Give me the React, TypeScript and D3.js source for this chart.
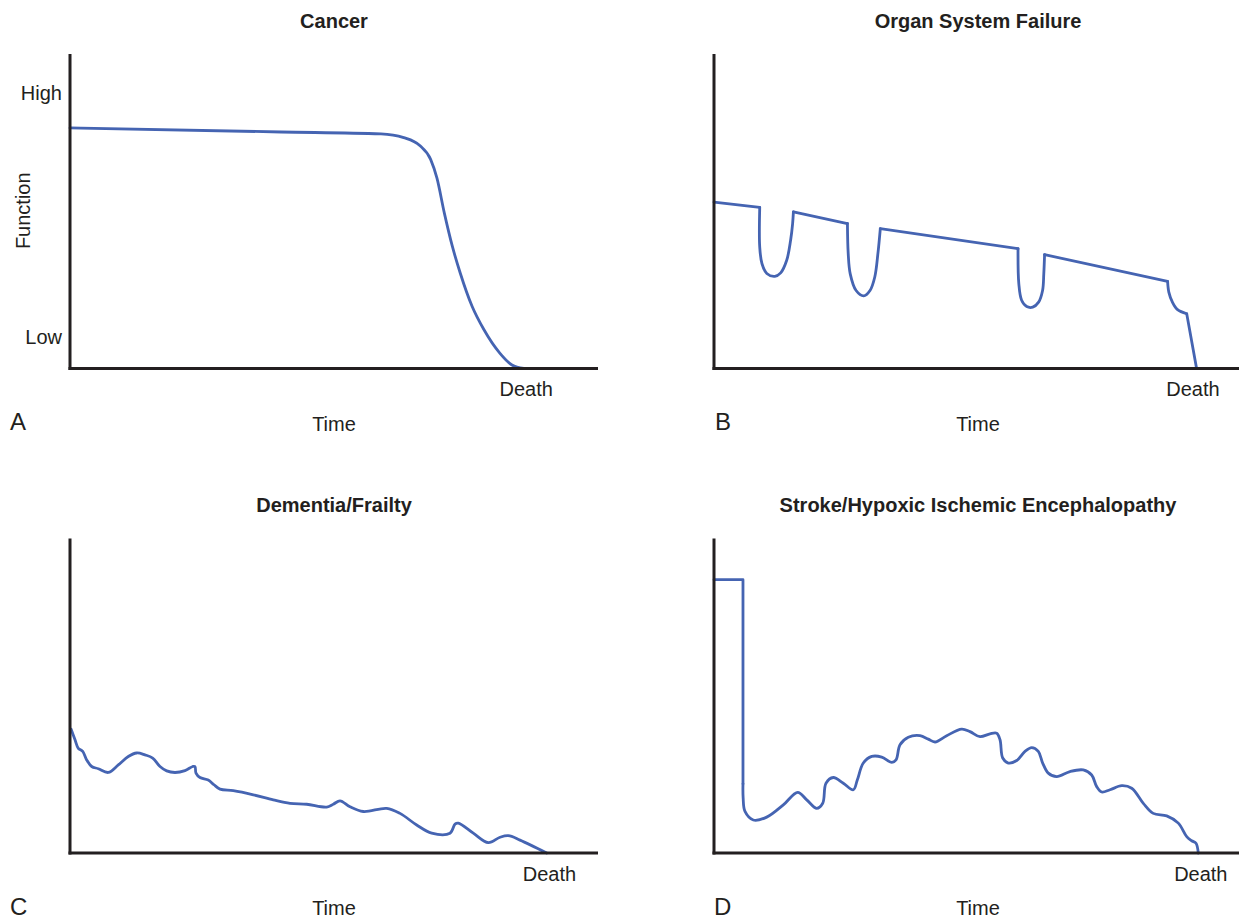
import React from 'react';
import * as d3 from 'd3';

type P = [number, number];

// ---------- Text ----------
const panelLetters = ['A', 'B', 'C', 'D'];
const panelTitles = ['Cancer', 'Organ System Failure', 'Dementia/Frailty', 'Stroke/Hypoxic Ischemic Encephalopathy'];
const yAxisLabel = 'Function';
const yTickLabels = ['High', 'Low'];
const yTickValues = [87.7, 10.1];
const xAxisLabel = 'Time';
const endLabel = 'Death';
const deathTimes = [86.4, 90.7, 90.8, 92.2];

// ---------- Data (time 0-100, function 0-100) ----------
const cancerCurve: P[] = [
  [0, 76.5], [40, 75.2], [58.9, 74.6], [63.2, 73.4], [66.3, 70.8], [68.3, 66.5],
  [69.5, 60.5], [70.9, 49.4], [72.42, 38.8], [73.92, 30.3],
  [76.17, 19.7], [78.41, 12.3], [81.44, 4.8], [83.71, 1.1], [85.95, 0],
];

const organTrend1: P[] = [[0, 52.9], [8.66, 51.2]];
const organDip1: P[] = [
  [8.66, 51.2], [8.66, 38.6], [9.09, 33.3], [10.0, 30.2], [11.52, 29.3], [12.63, 30.4],
  [13.77, 34.4], [14.51, 40.8], [14.89, 46.1], [15.04, 49.8],
];
const organTrend2: P[] = [[15.04, 49.8], [25.27, 46.1]];
const organDip2: P[] = [
  [25.27, 46.1], [25.42, 36.5], [25.8, 30.1], [26.91, 24.8], [28.35, 23.1], [29.55, 24.8],
  [30.45, 29.1], [31.04, 36.5], [31.5, 44.5],
];
const organTrend3: P[] = [[31.5, 44.5], [57.58, 38.1]];
const organDip3: P[] = [
  [57.58, 38.1], [57.73, 27.0], [58.26, 21.7], [59.22, 19.7], [60.36, 19.5], [61.48, 21.1],
  [62.23, 24.8], [62.46, 30.1], [62.61, 36.2],
];
const organTrend4: P[] = [[62.61, 36.2], [85.91, 27.7]];
const organDecline: P[] = [[85.91, 27.7], [86.14, 24.3], [86.82, 21.1], [87.79, 18.7], [89.53, 17.4]];
const organFinal: P[] = [[89.53, 17.4], [91.4, 0]];

const dementiaCurve: P[] = [
  [0.2, 39.4], [0.95, 36.0], [1.57, 33.3], [2.41, 32.3], [3.16, 29.6], [4.11, 27.5],
  [5.36, 26.8], [7.25, 25.6], [9.15, 28.0], [11.04, 30.7], [12.63, 31.8], [14.2, 31.2],
  [15.66, 30.2], [17.05, 27.5], [18.31, 26.1], [19.89, 25.6], [21.78, 26.2], [23.24, 27.5],
  [23.67, 27.5], [23.86, 25.4], [24.62, 24.0], [26.19, 23.2], [27.27, 21.7], [28.41, 20.3],
  [30.93, 19.8], [34.72, 18.5], [38.5, 16.9], [41.67, 15.8], [44.83, 15.5], [48.62, 14.6],
  [49.87, 15.5], [51.14, 16.6], [53.03, 14.7], [55.55, 13.2], [59.98, 14.2], [62.5, 12.6],
  [65.66, 8.9], [68.5, 6.3], [71.97, 6.3], [72.92, 9.2], [73.54, 9.5], [76.38, 6.3],
  [79.22, 3.3], [81.44, 5.0], [83.01, 5.5], [85.23, 4.1], [90.28, 0],
];

const strokeStep: P[] = [[0, 86.9], [5.49, 86.9], [5.49, 22]];
const strokeCurve: P[] = [
  [5.49, 22], [5.52, 17.5], [5.87, 13.2], [7.44, 10.5], [9.98, 11.4], [13.13, 15.3],
  [15.85, 19.3], [17.56, 16.9], [19.45, 14.2], [20.59, 15.8], [21.21, 22.2], [22.59, 24.0],
  [24.49, 22.2], [26.38, 20.1], [27.14, 23.2], [28.28, 28.6], [29.87, 30.7], [31.76, 30.5],
  [33.66, 28.8], [34.47, 29.6], [35.23, 34.4], [36.8, 36.8], [39.02, 37.3], [40.59, 36.2],
  [41.86, 35.3], [44.07, 37.3], [46.91, 39.4], [48.48, 38.6], [50.38, 37.0], [52.27, 37.9],
  [53.54, 38.1], [54.17, 36.0], [54.68, 30.2], [55.74, 28.6], [57.33, 29.4], [58.9, 32.3],
  [60.17, 33.5], [61.42, 32.3], [62.25, 28.6], [63.31, 25.4], [64.91, 24.3], [67.42, 25.9],
  [69.94, 26.4], [71.53, 24.8], [72.48, 21.1], [73.43, 19.4], [75.0, 20.1], [77.22, 21.4],
  [79.11, 20.6], [81.31, 15.8], [83.2, 12.6], [85.74, 11.8], [87.94, 9.5], [89.53, 5.2],
  [90.47, 3.9], [91.29, 3.1], [91.72, 0],
];

type Seg = { kind: 'smooth' | 'monotone' | 'linear'; pts: P[] };
const panelSeries: Seg[][] = [
  [{ kind: 'monotone', pts: cancerCurve }],
  [
    { kind: 'linear', pts: organTrend1 }, { kind: 'smooth', pts: organDip1 },
    { kind: 'linear', pts: organTrend2 }, { kind: 'smooth', pts: organDip2 },
    { kind: 'linear', pts: organTrend3 }, { kind: 'smooth', pts: organDip3 },
    { kind: 'linear', pts: organTrend4 }, { kind: 'smooth', pts: organDecline },
    { kind: 'linear', pts: organFinal },
  ],
  [{ kind: 'smooth', pts: dementiaCurve }],
  [{ kind: 'linear', pts: strokeStep }, { kind: 'smooth', pts: strokeCurve }],
];

// ---------- Layout ----------
const layout = [
  { x0: 70, bottom: 368.5, axisEnd: 598, letterX: 10 },
  { x0: 714, bottom: 368.5, axisEnd: 1242, letterX: 715 },
  { x0: 70, bottom: 853, axisEnd: 598, letterX: 10 },
  { x0: 714, bottom: 853, axisEnd: 1242, letterX: 714 },
];
const plotW = 528;
const plotH = 314.5;
const FONT = '"Liberation Sans", Arial, Helvetica, sans-serif';
const INK = '#231f20';
const BLUE = '#4564b2';

const curves = {
  smooth: d3.curveCatmullRom.alpha(0.5),
  monotone: d3.curveMonotoneX,
  linear: d3.curveLinear,
};

function Panel({ i }: { i: number }) {
  const L = layout[i];
  const x = d3.scaleLinear().domain([0, 100]).range([L.x0, L.x0 + plotW]);
  const y = d3.scaleLinear().domain([0, 100]).range([L.bottom, L.bottom - plotH]);
  const top = y(100);
  const cx = L.x0 + plotW / 2;
  return (
    <g>
      <text x={cx} y={top - 26.5} textAnchor="middle" fontFamily={FONT} fontWeight="bold" fontSize={20} fill={INK}>
        {panelTitles[i]}
      </text>
      {panelSeries[i].map((s, k) => {
        const gen = d3.line<P>().x(d => x(d[0])).y(d => y(d[1])).curve(curves[s.kind]);
        return (
          <path key={k} d={gen(s.pts) || ''} fill="none" stroke={BLUE}
            strokeWidth={2.8} strokeLinejoin="round" strokeLinecap="round" />
        );
      })}
      <line x1={L.x0} x2={L.x0} y1={top} y2={L.bottom + 1.5} stroke={INK} strokeWidth={3} />
      <line x1={L.x0 - 1.5} x2={L.axisEnd} y1={L.bottom} y2={L.bottom} stroke={INK} strokeWidth={3} />
      <text x={x(deathTimes[i])} y={L.bottom + 27.5} textAnchor="middle" fontFamily={FONT} fontSize={20} fill={INK}>
        {endLabel}
      </text>
      <text x={cx} y={L.bottom + 62} textAnchor="middle" fontFamily={FONT} fontSize={20} fill={INK}>
        {xAxisLabel}
      </text>
      <text x={L.letterX} y={L.bottom + 61.5} fontFamily={FONT} fontSize={24} fill={INK}>
        {panelLetters[i]}
      </text>
      {i === 0 && (
        <g>
          {yTickLabels.map((t, k) => (
            <text key={t} x={L.x0 - 8} y={y(yTickValues[k])} dy="0.35em" textAnchor="end" fontFamily={FONT}
              fontSize={20} fill={INK}>{t}</text>
          ))}
          <text transform={`translate(29.5, ${(top + L.bottom) / 2 - 0.5}) rotate(-90)`} textAnchor="middle"
            fontFamily={FONT} fontSize={20} fill={INK}>{yAxisLabel}</text>
        </g>
      )}
    </g>
  );
}

export default function App() {
  return (
    <svg width={1239} height={919} viewBox="0 0 1239 919"
      style={{ position: 'absolute', left: 0, top: 0, display: 'block', background: '#fff' }}>
      <rect width={1239} height={919} fill="#fff" />
      {[0, 1, 2, 3].map(i => <Panel key={i} i={i} />)}
    </svg>
  );
}
